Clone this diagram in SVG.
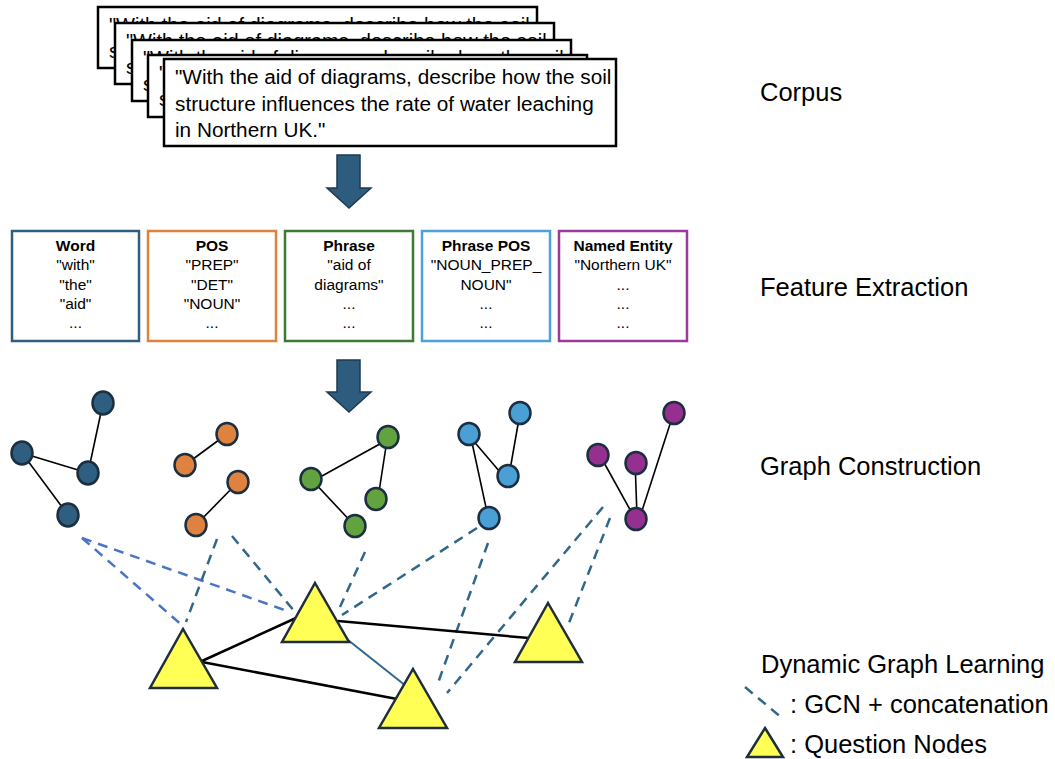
<svg xmlns="http://www.w3.org/2000/svg" width="1055" height="759" viewBox="0 0 1055 759">
<style>
.card{fill:#fff;stroke:#000;stroke-width:2.5}
.ct{font-family:"Liberation Sans",Arial,sans-serif;font-size:20px;fill:#000}
.cf{font-size:20.75px}
.fb{fill:#fff;stroke-width:2.5}
.ft{font-family:"Liberation Sans",Arial,sans-serif;font-size:15.5px;fill:#000;text-anchor:middle}
.fh{font-weight:bold}
.lbl{font-family:"Liberation Sans",Arial,sans-serif;font-size:25.5px;fill:#000}
.arrow{fill:#2E5C7E;stroke:#1E3A50;stroke-width:1.5}
.n{stroke:#1B2F40;stroke-width:2.5}
.e{stroke:#000;stroke-width:1.6;fill:none}
.tri{fill:#FFFF55;stroke:#1E2E3C;stroke-width:2.5;stroke-linejoin:miter}
.ds{stroke:#31678A;stroke-width:2.5;stroke-dasharray:10,7;fill:none}
.dl{stroke:#4A74C6;stroke-width:2.5;stroke-dasharray:10,7;fill:none}
.s{stroke:#000;stroke-width:2.5;fill:none}
</style>

<g id="corpus">
  <rect class="card" x="98" y="7" width="439" height="61"/>
  <text class="ct" x="109" y="32">"With the aid of diagrams, describe how the soil</text>
  <text class="ct" x="109" y="58">structure influences the rate of water leaching</text>
  <rect class="card" x="115" y="23" width="439" height="61"/>
  <text class="ct" x="126" y="48">"With the aid of diagrams, describe how the soil</text>
  <text class="ct" x="126" y="74">structure influences the rate of water leaching</text>
  <rect class="card" x="132" y="40" width="439" height="61"/>
  <text class="ct" x="143" y="65">"With the aid of diagrams, describe how the soil</text>
  <text class="ct" x="143" y="91">structure influences the rate of water leaching</text>
  <rect class="card" x="148" y="55" width="439" height="62"/>
  <text class="ct" x="159" y="80">"With the aid of diagrams, describe how the soil</text>
  <text class="ct" x="159" y="106">structure influences the rate of water leaching</text>
  <rect class="card" x="164" y="59" width="452" height="87"/>
  <text class="ct cf" x="175" y="84">"With the aid of diagrams, describe how the soil</text>
  <text class="ct cf" x="175" y="111">structure influences the rate of water leaching</text>
  <text class="ct cf" x="175" y="137">in Northern UK."</text>
</g>

<g id="arrow1">
  <polygon class="arrow" points="337,155 360,155 360,188 371,188 349,208 327,188 337,188"/>
</g>

<g id="features">
  <g id="f-word">
    <rect class="fb" x="12" y="231" width="127" height="110" stroke="#2E5F80"/>
    <text class="ft fh" x="75.5" y="251">Word</text>
    <text class="ft" x="75.5" y="270">"with"</text>
    <text class="ft" x="75.5" y="290">"the"</text>
    <text class="ft" x="75.5" y="309">"aid"</text>
    <text class="ft" x="75.5" y="328">...</text>
  </g>
  <g id="f-pos">
    <rect class="fb" x="148" y="231" width="128" height="110" stroke="#E0823F"/>
    <text class="ft fh" x="212" y="251">POS</text>
    <text class="ft" x="212" y="270">"PREP"</text>
    <text class="ft" x="212" y="290">"DET"</text>
    <text class="ft" x="212" y="309">"NOUN"</text>
    <text class="ft" x="212" y="328">...</text>
  </g>
  <g id="f-phrase">
    <rect class="fb" x="285" y="231" width="128" height="110" stroke="#3F7A35"/>
    <text class="ft fh" x="349" y="251">Phrase</text>
    <text class="ft" x="349" y="270">"aid of</text>
    <text class="ft" x="349" y="290">diagrams"</text>
    <text class="ft" x="349" y="309">...</text>
    <text class="ft" x="349" y="328">...</text>
  </g>
  <g id="f-phrasepos">
    <rect class="fb" x="422" y="231" width="128" height="110" stroke="#4CA0DC"/>
    <text class="ft fh" x="486" y="251">Phrase POS</text>
    <text class="ft" x="486" y="270">"NOUN_PREP_</text>
    <text class="ft" x="486" y="290">NOUN"</text>
    <text class="ft" x="486" y="309">...</text>
    <text class="ft" x="486" y="328">...</text>
  </g>
  <g id="f-ner">
    <rect class="fb" x="559" y="231" width="128" height="110" stroke="#9A3A9A"/>
    <text class="ft fh" x="623" y="251">Named Entity</text>
    <text class="ft" x="623" y="270">"Northern UK"</text>
    <text class="ft" x="623" y="290">...</text>
    <text class="ft" x="623" y="309">...</text>
    <text class="ft" x="623" y="328">...</text>
  </g>
</g>

<g id="arrow2">
  <polygon class="arrow" points="337,360 360,360 360,392 371,392 349,412 327,392 337,392"/>
</g>

<g id="connectors">
  <line class="e" x1="103" y1="403" x2="88" y2="473"/>
  <line class="e" x1="22" y1="453" x2="88" y2="473"/>
  <line class="e" x1="22" y1="453" x2="68" y2="515"/>
  <line class="e" x1="227" y1="434" x2="185" y2="465"/>
  <line class="e" x1="238" y1="482" x2="196" y2="525"/>
  <line class="e" x1="322" y1="476" x2="387" y2="440"/>
  <line class="e" x1="311" y1="479" x2="355" y2="526"/>
  <line class="e" x1="387" y1="440" x2="379" y2="492"/>
  <line class="e" x1="471" y1="438" x2="500" y2="472"/>
  <line class="e" x1="471" y1="438" x2="487" y2="512"/>
  <line class="e" x1="520" y1="413" x2="510" y2="470"/>
  <line class="e" x1="602" y1="459" x2="633" y2="515"/>
  <line class="e" x1="635" y1="460" x2="637" y2="516"/>
  <line class="e" x1="671" y1="421" x2="640" y2="517"/>
  <line class="dl" x1="82" y1="538" x2="184" y2="627"/>
  <line class="dl" x1="82" y1="538" x2="290" y2="612"/>
  <line class="ds" x1="217" y1="539" x2="186" y2="622"/>
  <line class="ds" x1="232" y1="536" x2="295" y2="612"/>
  <line class="ds" x1="365" y1="552" x2="340" y2="607"/>
  <line class="ds" x1="477" y1="528" x2="342" y2="615"/>
  <line class="ds" x1="488" y1="543" x2="438" y2="683"/>
  <line class="ds" x1="603" y1="507" x2="447" y2="693"/>
  <line class="ds" x1="610" y1="518" x2="567" y2="628"/>
  <line class="s" x1="202" y1="661" x2="296" y2="618"/>
  <line class="s" x1="202" y1="662" x2="397" y2="699"/>
  <line class="s" x1="338" y1="621" x2="529" y2="638"/>
  <line x1="348" y1="640" x2="406" y2="686" stroke="#31678A" stroke-width="2"/>
</g>

<g id="graph-word">
  <ellipse class="n" cx="103" cy="403" rx="10.5" ry="11.5" fill="#2E5F80"/>
  <ellipse class="n" cx="22" cy="453" rx="10.5" ry="11.5" fill="#2E5F80"/>
  <ellipse class="n" cx="88" cy="473" rx="10.5" ry="11.5" fill="#2E5F80"/>
  <ellipse class="n" cx="68" cy="515" rx="10.5" ry="11.5" fill="#2E5F80"/>
</g>
<g id="graph-pos">
  <ellipse class="n" cx="227" cy="434" rx="10.5" ry="11" fill="#E0823F"/>
  <ellipse class="n" cx="185" cy="465" rx="10.5" ry="11" fill="#E0823F"/>
  <ellipse class="n" cx="238" cy="482" rx="10.5" ry="11" fill="#E0823F"/>
  <ellipse class="n" cx="196" cy="525" rx="10.5" ry="11" fill="#E0823F"/>
</g>
<g id="graph-phrase">
  <ellipse class="n" cx="388" cy="437" rx="10.5" ry="11" fill="#62A33F"/>
  <ellipse class="n" cx="311" cy="479" rx="10.5" ry="11" fill="#62A33F"/>
  <ellipse class="n" cx="376" cy="499" rx="10.5" ry="11" fill="#62A33F"/>
  <ellipse class="n" cx="355" cy="526" rx="10.5" ry="11" fill="#62A33F"/>
</g>
<g id="graph-phrasepos">
  <ellipse class="n" cx="469" cy="434" rx="10.5" ry="11" fill="#4A9FD4"/>
  <ellipse class="n" cx="520" cy="413" rx="10.5" ry="11" fill="#4A9FD4"/>
  <ellipse class="n" cx="508" cy="476" rx="10.5" ry="11" fill="#4A9FD4"/>
  <ellipse class="n" cx="489" cy="518" rx="10.5" ry="11" fill="#4A9FD4"/>
</g>
<g id="graph-ner">
  <ellipse class="n" cx="598" cy="455" rx="10.5" ry="11" fill="#953090"/>
  <ellipse class="n" cx="636" cy="463" rx="10.5" ry="11" fill="#953090"/>
  <ellipse class="n" cx="674" cy="413" rx="10.5" ry="11" fill="#953090"/>
  <ellipse class="n" cx="636" cy="519" rx="10.5" ry="11" fill="#953090"/>
</g>

<g id="q1"><polygon class="tri" points="183,629 217,688 150,688"/></g>
<g id="q2"><polygon class="tri" points="315,583 349,642 282,642"/></g>
<g id="q3"><polygon class="tri" points="413,669 447,728 379,728"/></g>
<g id="q4"><polygon class="tri" points="548,603 582,662 515,662"/></g>

<g id="labels">
  <text class="lbl" x="760" y="101">Corpus</text>
  <text class="lbl" x="760" y="296">Feature Extraction</text>
  <text class="lbl" x="760" y="475">Graph Construction</text>
  <text class="lbl" x="761" y="673">Dynamic Graph Learning</text>
</g>

<g id="legend">
  <line class="ds" x1="745" y1="687" x2="782" y2="718" stroke-width="2" stroke-dasharray="1,7,8,7,8,7"/>
  <text class="lbl" x="790" y="713">: GCN + concatenation</text>
  <polygon class="tri" points="765,728 783,757 747,757"/>
  <text class="lbl" x="790" y="753">: Question Nodes</text>
</g>
</svg>
